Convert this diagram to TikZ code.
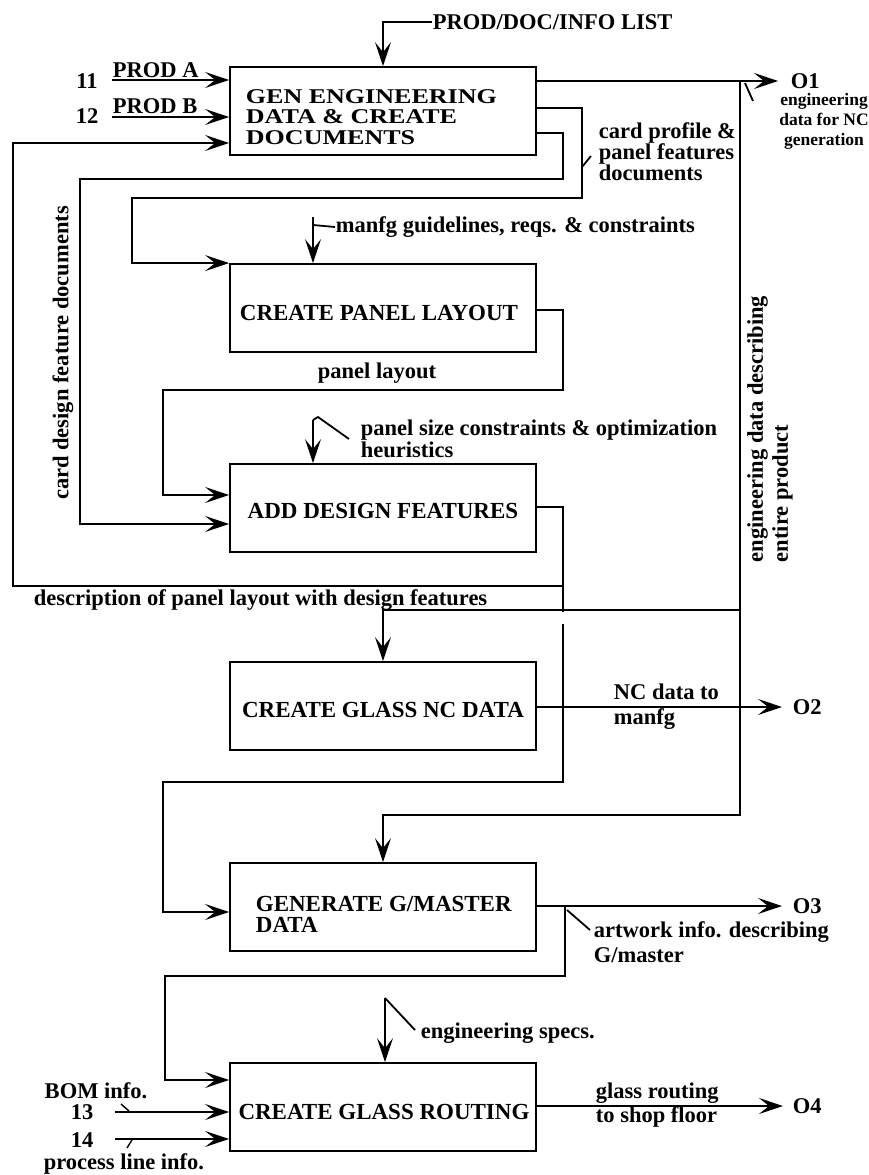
\documentclass[tikz,border=0pt]{standalone}
\usepackage{fontspec}
\setmainfont{Liberation Serif}
\newfontfamily\widebf{Liberation Serif}[FakeStretch=1.24]
\usetikzlibrary{arrows.meta}
\begin{document}
\begin{tikzpicture}[x=1pt,y=-1pt,
  line width=1.8pt,
  every node/.style={font=\fontsize{22.5}{23}\selectfont\bfseries, inner sep=0pt},
  box/.style={draw, minimum width=306pt, minimum height=88pt},
  boxtext/.style={font=\fontsize{23}{21}\selectfont\bfseries},
  arr/.style={-{Stealth[length=24pt,width=16pt,inset=10pt]}},
  lbl/.style={align=left, anchor=west},
]
\useasboundingbox (0,0) rectangle (868,1175);

% activity boxes
\node[box] (b1) at (383,111) {};
\node[box] (b2) at (383,308) {};
\node[box] (b3) at (383,508) {};
\node[box] (b4) at (383,706) {};
\node[box] (b5) at (383,907) {};
\node[box] (b6) at (383,1107) {};

\node[lbl, font=\fontsize{21}{20.5}\selectfont\widebf\bfseries] (t1) at (245,117) {GEN ENGINEERING\\DATA \& CREATE\\DOCUMENTS};
\node[boxtext] (t2) at (379,313) {CREATE PANEL LAYOUT};
\node[boxtext] (t3) at (383,511) {ADD DESIGN FEATURES};
\node[boxtext] (t4) at (383,710) {CREATE GLASS NC DATA};
\node[boxtext, lbl] (t5) at (255,914) {GENERATE G/MASTER\\DATA};
\node[boxtext] (t6) at (384,1112) {CREATE GLASS ROUTING};

% control into the first box
\node[anchor=west] (ctl1) at (432,22) {PROD/DOC/INFO LIST};
\draw[arr] (ctl1.west) -| (b1.north);

% inputs 11 and 12
\node[anchor=base] (n11) at (87,88) {11};
\node[anchor=base] (n12) at (87,123) {12};
\coordinate (i1) at (112,80);
\coordinate (i2) at (112,117);
\node[anchor=base west] (pa) at (112,77) {PROD A};
\node[anchor=base west] (pb) at (112,113) {PROD B};
\draw[arr] (i1) -- (i1 -| b1.west);
\draw[arr] (i2) -- (i2 -| b1.west);

% output O1
\coordinate (o1tip) at (778,81);
\draw[arr] (o1tip -| b1.east) -- (o1tip);
\node[anchor=west] (o1) at (790,81) {O1};
\coordinate (o1a) at (745,83);
\coordinate (o1b) at (753,101);
\draw (o1a) -- (o1b);
\node[align=center, font=\fontsize{17.5}{20}\selectfont\bfseries] (o1lab) at (824,121) {engineering\\data for NC\\generation};

% engineering data describing entire product
\coordinate (v1) at (740,81);
\coordinate (v1b) at (740,815);
\coordinate (v1m) at (740,610);
\draw[arr] (v1) -- (v1b) -| (b5.north);
\draw[arr] (v1m) -| (b4.north);
\node[rotate=90, anchor=west, align=left, font=\fontsize{22.5}{25}\selectfont\bfseries] (edl) at (770,563) {engineering data describing\\entire product};

% card design feature documents
\coordinate (p1) at (563,133);
\coordinate (p2) at (80,179);
\coordinate (p3) at (80,524);
\draw[arr] (p1 -| b1.east) -- (p1) |- (p2) -- (p3) -- (p3 -| b3.west);
\node[rotate=90] (cdf) at (63,353) {card design feature documents};

% card profile & panel features documents
\coordinate (q1) at (582,108);
\coordinate (q2) at (132,198);
\draw[arr] (q1 -| b1.east) -- (q1) |- (q2) |- (b2.north west);
\coordinate (qa) at (582,167);
\coordinate (qb) at (591,156);
\draw (qa) -- (qb);
\node[lbl, font=\fontsize{22.5}{21}\selectfont\bfseries] (cp) at (598,152) {card profile \&\\panel features\\documents};

% manufacturing guidelines
\coordinate (m1) at (313,217);
\coordinate (m1t) at (313,225);
\draw[arr] (m1) -- (m1 |- b2.north);
\node[anchor=west] (mtext) at (335,227) {manfg guidelines, reqs. \& constraints};
\draw (m1t) -- (mtext.west);

% panel layout
\coordinate (r1) at (563,310);
\coordinate (r2) at (163,390);
\coordinate (r3) at (163,495);
\draw[arr] (r1 -| b2.east) -- (r1) |- (r2) -- (r3) -- (r3 -| b3.west);
\node (pl) at (377,373) {panel layout};

% panel size constraints
\coordinate (s1) at (313,420);
\coordinate (s2) at (318,417);
\coordinate (s3) at (349,439);
\draw[arr] (s1) -- (s1 |- b3.north);
\draw (s1) -- (s2) -- (s3);
\node[lbl, font=\fontsize{22.5}{22}\selectfont\bfseries] (ps) at (360,439) {panel size constraints \& optimization\\heuristics};

% description of panel layout with design features
\coordinate (u1) at (563,507);
\coordinate (u2) at (563,612);
\coordinate (u3) at (563,624);
\coordinate (u4) at (163,782);
\coordinate (u5) at (163,912);
\draw (u1 -| b3.east) -- (u1) -- (u2);
\draw[arr] (u3) |- (u4) -- (u5) -- (u5 -| b5.west);
\coordinate (fb) at (563,586);
\coordinate (fb1) at (13,586);
\coordinate (fb2) at (13,143);
\draw[arr] (fb) -- (fb1) -- (fb2) -- (fb2 -| b1.west);
\node[anchor=west] (desc) at (33,600) {description of panel layout with design features};

% output O2
\coordinate (o2tip) at (782,707);
\draw[arr] (o2tip -| b4.east) -- (o2tip);
\node[anchor=west] (o2) at (792,707) {O2};
\node[lbl, font=\fontsize{22.5}{25}\selectfont\bfseries] (nc) at (613,707) {NC data to\\manfg};

% output O3 and artwork info
\coordinate (o3tip) at (782,906);
\draw[arr] (o3tip -| b5.east) -- (o3tip);
\node[anchor=west] (o3) at (792,906) {O3};
\coordinate (w1) at (565,906);
\coordinate (w2) at (165,976);
\coordinate (w3) at (165,1080);
\draw[arr] (w1) |- (w2) -- (w3) -- (w3 -| b6.west);
\coordinate (wa) at (567,910);
\coordinate (wb) at (590,930);
\draw (wa) -- (wb);
\node[lbl, font=\fontsize{22.5}{25}\selectfont\bfseries] (aw) at (593,942) {artwork info. describing\\G/master};

% engineering specs
\coordinate (e1) at (385,998);
\coordinate (e2) at (415,1030);
\draw[arr] (e1) -- (e1 |- b6.north);
\draw (e1) -- (e2);
\node[anchor=west] (es) at (420,1033) {engineering specs.};

% inputs 13 and 14
\coordinate (i3) at (115,1112);
\coordinate (i4) at (115,1139);
\draw[arr] (i3) -- (i3 -| b6.west);
\draw[arr] (i4) -- (i4 -| b6.west);
\coordinate (k1) at (121,1104);
\coordinate (k2) at (129,1111);
\coordinate (k3) at (132,1140);
\coordinate (k4) at (127,1148);
\draw[line width=1.4pt] (k1) -- (k2);
\draw[line width=1.4pt] (k3) -- (k4);
\node (bom) at (96,1091) {BOM info.};
\node (n13) at (82,1112) {13};
\node (n14) at (82,1140) {14};
\node[anchor=west] (pli) at (43,1164) {process line info.};

% output O4
\coordinate (o4tip) at (783,1106);
\draw[arr] (o4tip -| b6.east) -- (o4tip);
\node[anchor=west] (o4) at (792,1106) {O4};
\node[lbl, font=\fontsize{22.5}{24}\selectfont\bfseries] (gr) at (595,1105) {glass routing\\to shop floor};
\end{tikzpicture}
\end{document}
